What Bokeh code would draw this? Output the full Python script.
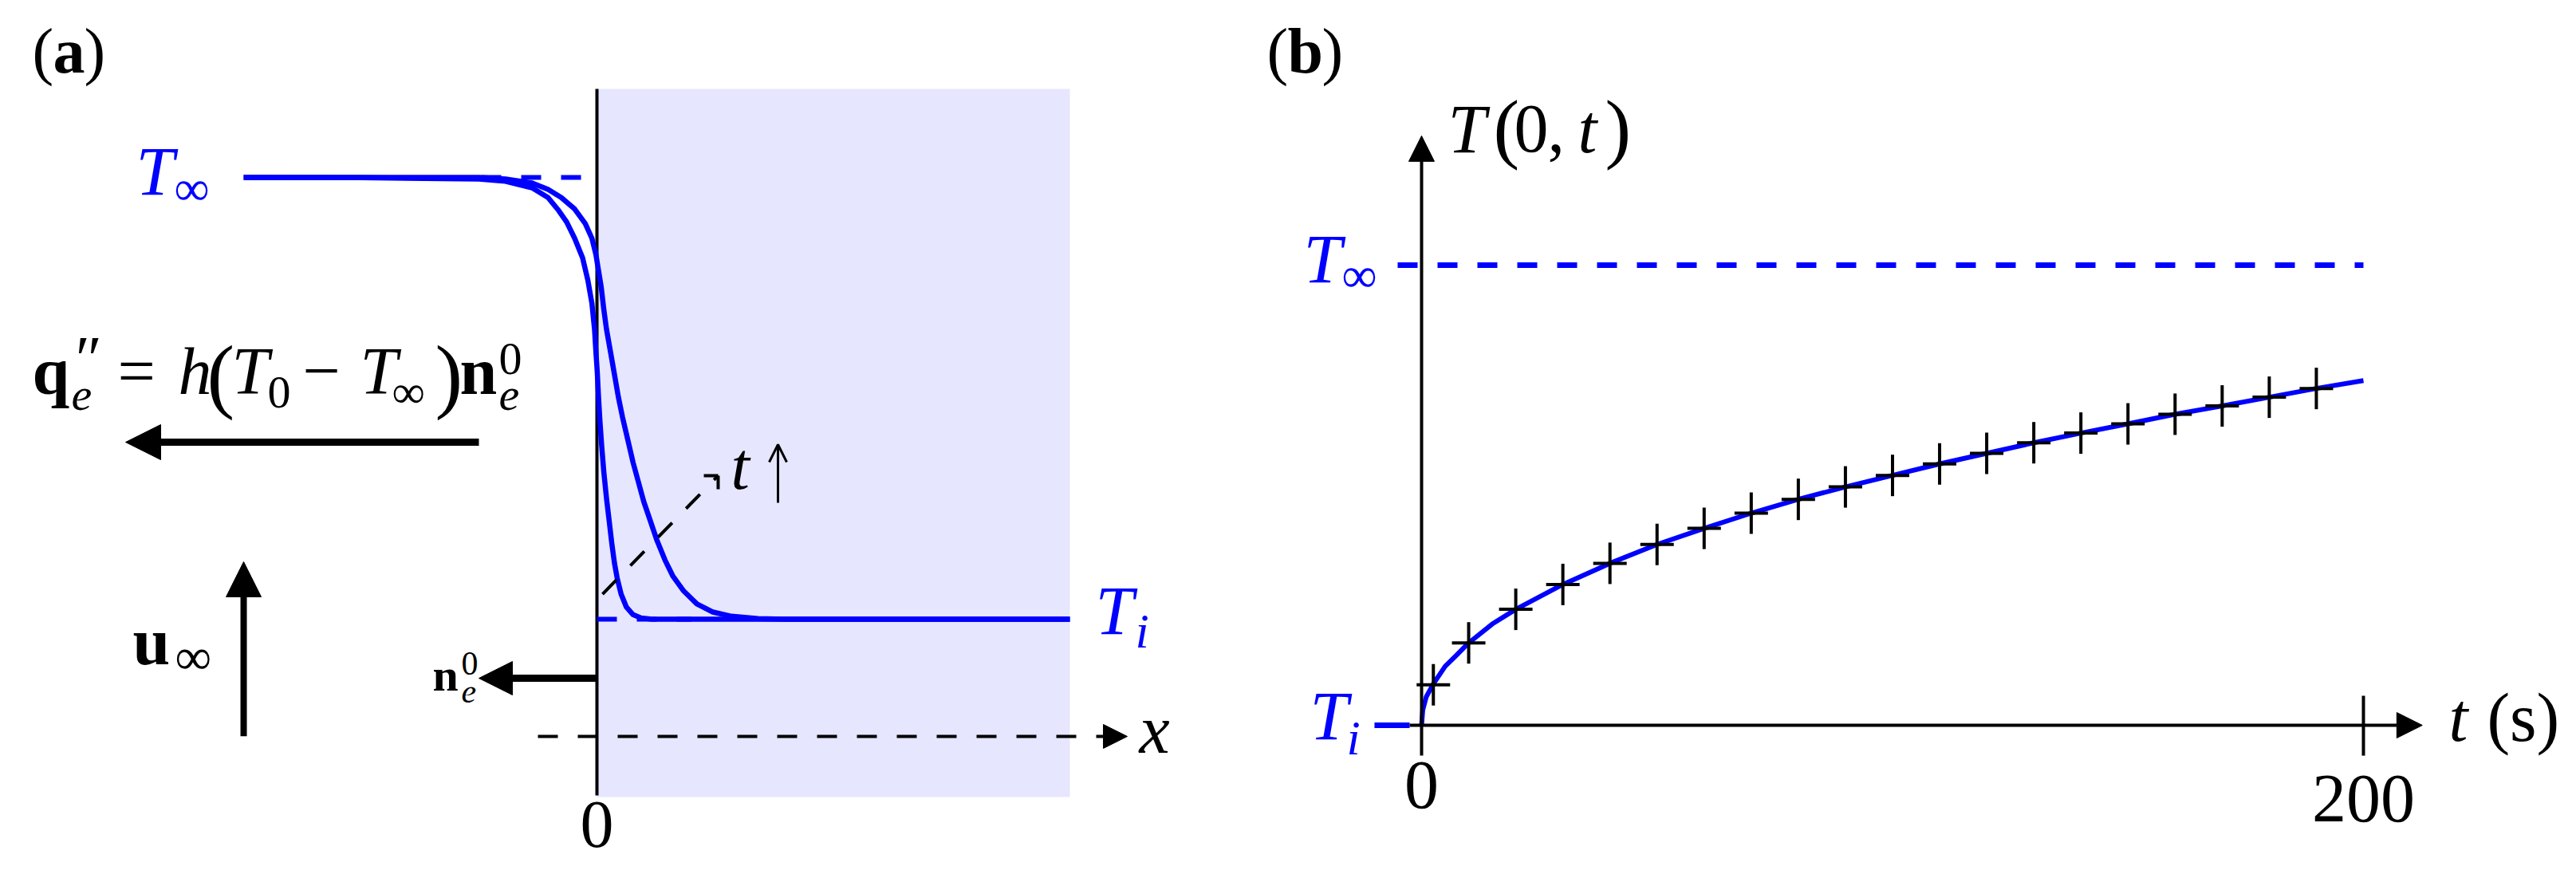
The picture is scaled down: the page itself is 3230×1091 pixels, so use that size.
import numpy as np
from bokeh.plotting import figure
from bokeh.models import Range1d, Arrow, NormalHead, OpenHead
from bokeh.layouts import row
from bokeh.core.properties import value
from bokeh.embed import file_html
from bokeh.resources import INLINE

BLUE = "#0000ff"
SHADE = "#e6e6ff"
FONT = "Liberation Serif"

# ---------------- data: panel (a) temperature profiles (x: wall units, T: normalised Ti=0 .. Tinf=1)
x_early = [-0.747, -0.50, -0.2496, -0.1934, -0.1372, -0.1034, -0.0809, -0.0641, -0.0472, -0.0304,
           -0.0191, -0.0107, -0.0051, -0.0022, 0.0006, 0.0034, 0.0062, 0.0101, 0.0146, 0.0202,
           0.0259, 0.0315, 0.0371, 0.0427, 0.0511, 0.0624, 0.0764, 0.0933, 0.1158, 1.0]
T_early = [1.0, 0.9995, 0.9963, 0.9912, 0.9765, 0.9544, 0.9250, 0.8992, 0.8624, 0.8182,
           0.7667, 0.7152, 0.6564, 0.6049, 0.5607, 0.5018, 0.4503, 0.3915, 0.3326, 0.2737,
           0.2222, 0.1707, 0.1266, 0.0935, 0.0567, 0.0272, 0.0103, 0.0029, 0.0, 0.0]
x_late = [-0.747, -0.2496, -0.1934, -0.1372, -0.1034, -0.0753, -0.0472, -0.0247, -0.0107, -0.0022,
          0.0034, 0.0090, 0.0146, 0.0202, 0.0287, 0.0371, 0.0455, 0.0540, 0.0652, 0.0764,
          0.0877, 0.0989, 0.1130, 0.1270, 0.1439, 0.1608, 0.1833, 0.2114, 0.2451, 0.2844,
          0.3406, 0.3969, 1.0]
T_late = [1.0, 1.0, 0.9963, 0.9875, 0.9728, 0.9544, 0.9286, 0.8955, 0.8624, 0.8256,
          0.7888, 0.7520, 0.7005, 0.6564, 0.6049, 0.5534, 0.5018, 0.4577, 0.4062, 0.3547,
          0.3105, 0.2664, 0.2222, 0.1781, 0.1339, 0.0971, 0.0640, 0.0346, 0.0162, 0.0066,
          0.0015, 0.0, 0.0]
T_inf, T_i = 1.0, 0.0
solid_x = (0.0, 1.0)

# ---------------- data: panel (b) surface temperature history
t_curve = [0, 0.25, 1, 2.5, 5, 7.5, 10, 15, 20, 30, 40, 50, 60, 70, 80, 90, 100, 110,
           120, 130, 140, 150, 160, 170, 180, 190, 200]
T_curve = [0.0, 0.033, 0.062, 0.090, 0.128, 0.153, 0.179, 0.220, 0.252, 0.306, 0.352, 0.393,
           0.428, 0.461, 0.491, 0.518, 0.543, 0.568, 0.591, 0.614, 0.635, 0.655, 0.676, 0.694,
           0.713, 0.732, 0.749]
t_marks = [2.5, 10, 20, 30, 40, 50, 60, 70, 80, 90, 100, 110, 120, 130, 140, 150, 160, 170, 180, 190]
T_marks = [0.088, 0.179, 0.252, 0.306, 0.352, 0.393, 0.428, 0.461, 0.491, 0.518, 0.543, 0.568,
           0.591, 0.614, 0.635, 0.655, 0.676, 0.694, 0.713, 0.732]
t_ticks = [0, 200]
t_tick_labels = ["0", "200"]

PX_PER_UNIT = {}


def make_fig(w, h, xr, yr):
    p = figure(width=w, height=h, x_range=Range1d(*xr), y_range=Range1d(*yr),
               x_axis_type=None, y_axis_type=None, toolbar_location=None,
               output_backend="svg", min_border=0, outline_line_color=None,
               background_fill_color="white", border_fill_color="white")
    PX_PER_UNIT[id(p)] = h / (yr[1] - yr[0])
    return p


def txt(p, x, y, s, size, style="normal", color="black", align="left"):
    # shift the anchor up so that the drawn baseline lands on y
    y_anchor = y + 0.36 * size / PX_PER_UNIT[id(p)]
    p.text(x=[x], y=[y_anchor], text=[s], text_font=value(FONT), text_font_size=value(f"{size}px"),
           text_font_style=style, text_color=color, text_align=align, text_baseline="alphabetic")


def arrow(p, x0, y0, x1, y1, lw, hs, dash="solid"):
    p.add_layout(Arrow(end=NormalHead(size=hs, fill_color="black", line_color="black", line_width=1),
                       x_start=x0, y_start=y0, x_end=x1, y_end=y1,
                       line_width=lw, line_color="black", line_dash=dash))


# ======================= panel (a)
pa = make_fig(1560, 1091, (-1.26138, 1.36931), (-0.56859, 1.40072))
pa.quad(left=solid_x[0], right=solid_x[1], bottom=-0.4025, top=1.2004, fill_color=SHADE, line_color=None)
pa.segment(x0=[0], y0=[-0.3989], x1=[0], y1=[1.2004], line_color="black", line_width=4)
pa.line([-0.2445, 0.0], [T_inf, T_inf], line_color=BLUE, line_width=6, line_dash="25 25")
pa.line([0.0, 0.2], [T_i, T_i], line_color=BLUE, line_width=6, line_dash="25 25")
pa.line(x_early, T_early, line_color=BLUE, line_width=6.5, line_join="round")
pa.line(x_late, T_late, line_color=BLUE, line_width=6.5, line_join="round")

# arrows
arrow(pa, -0.2496, 0.4007, -0.9966, 0.4007, 9, 44)        # heat flux
arrow(pa, -0.747, -0.265, -0.747, 0.130, 8, 44)           # u_inf
arrow(pa, 0.0, -0.1336, -0.2496, -0.1336, 9, 42)          # n_e^0
arrow(pa, -0.1248, -0.2653, 1.1214, -0.2653, 4, 30, "25 25")  # x axis

# t-increase dashed arrow
pa.line([0.0118, 0.2563], [0.0567, 0.3249], line_color="black", line_width=4, line_dash="25 25")
pa.segment(x0=[0.2260, 0.2563], y0=[0.3249, 0.3249], x1=[0.2563, 0.2563], y1=[0.3249, 0.2942],
           line_color="black", line_width=4)
pa.add_layout(Arrow(end=OpenHead(size=22, line_width=3, line_color="black"),
                    x_start=0.3828, y_start=0.2635, x_end=0.3828, y_end=0.3953,
                    line_width=3, line_color="black"))
txt(pa, 0.2833, 0.2924, "t", 84, "italic")

# labels
txt(pa, -1.1939, 1.2347, "(", 80)
txt(pa, -1.1501, 1.2347, "a", 80, "bold")
txt(pa, -1.0843, 1.2347, ")", 80)
txt(pa, -0.9747, 0.9585, "T", 86, "italic", BLUE)
txt(pa, -0.8938, 0.9350, "∞", 62, "normal", BLUE)
txt(pa, 1.0540, -0.0361, "T", 86, "italic", BLUE)
txt(pa, 1.1383, -0.0668, "i", 62, "italic", BLUE)
txt(pa, 0.0, -0.5199, "0", 84, align="center")
txt(pa, 1.1467, -0.3051, "x", 86, "italic")

# equation q''_e = h(T0 - Tinf) n_e^0
txt(pa, -1.1939, 0.5072, "q", 84, "bold")
txt(pa, -1.1113, 0.5379, "″", 80, "italic")
txt(pa, -1.1113, 0.4711, "e", 58, "italic")
txt(pa, -1.0135, 0.5072, "=", 84)
txt(pa, -0.8853, 0.5072, "h", 84, "italic")
txt(pa, -0.8246, 0.4874, "(", 104)
txt(pa, -0.7723, 0.5072, "T", 84, "italic")
txt(pa, -0.6965, 0.4765, "0", 58)
txt(pa, -0.6223, 0.5072, "−", 84)
txt(pa, -0.5008, 0.5072, "T", 84, "italic")
txt(pa, -0.4334, 0.4765, "∞", 58)
txt(pa, -0.3423, 0.4874, ")", 104)
txt(pa, -0.2900, 0.5072, "n", 84, "bold")
txt(pa, -0.2074, 0.5523, "0", 58)
txt(pa, -0.2074, 0.4711, "e", 58, "italic")

# u_inf and n_e^0 labels
txt(pa, -0.9815, -0.1047, "u", 84, "bold")
txt(pa, -0.8921, -0.1264, "∞", 64)
txt(pa, -0.3474, -0.1643, "n", 58, "bold")
txt(pa, -0.2867, -0.1282, "0", 42)
txt(pa, -0.2867, -0.1913, "e", 42, "italic")

# ======================= panel (b)
pb = make_fig(1670, 1091, (-37.595, 245.22), (-0.31542, 1.57539))
pb.line([-5.08, t_ticks[1]], [T_inf, T_inf], line_color=BLUE, line_width=7, line_dash="25 25")
pb.line([-10.0, -2.54], [T_i, T_i], line_color=BLUE, line_width=7)
arrow(pb, -2.54, 0.0, 212.5, 0.0, 4, 32)
arrow(pb, 0.0, -0.066, 0.0, 1.281, 4, 32)
pb.segment(x0=[t_ticks[1]], y0=[-0.066], x1=[t_ticks[1]], y1=[0.0641], line_color="black", line_width=4)
pb.line(t_curve, T_curve, line_color=BLUE, line_width=6, line_join="round")
pb.scatter(t_marks, T_marks, marker="dash", size=42, line_color="black", line_width=4)
pb.scatter(t_marks, T_marks, marker="dash", size=52, angle=np.pi / 2, line_color="black", line_width=4)

txt(pb, t_ticks[0], -0.1837, t_tick_labels[0], 86, align="center")
txt(pb, t_ticks[1], -0.2132, t_tick_labels[1], 86, align="center")
txt(pb, 218.12, -0.0364, "t", 86, "italic")
txt(pb, 226.25, -0.0364, "(s)", 86)

txt(pb, 5.59, 1.2426, "T", 86, "italic")
txt(pb, 15.24, 1.2374, "(", 98)
txt(pb, 19.64, 1.2426, "0", 86)
txt(pb, 26.76, 1.2426, ",", 86)
txt(pb, 33.19, 1.2426, "t", 86, "italic")
txt(pb, 38.95, 1.2374, ")", 98)

txt(pb, -25.06, 0.9601, "T", 86, "italic", BLUE)
txt(pb, -16.93, 0.9393, "∞", 62, "normal", BLUE)
txt(pb, -23.71, -0.0329, "T", 86, "italic", BLUE)
txt(pb, -15.92, -0.0659, "i", 62, "italic", BLUE)

txt(pb, -32.85, 1.4159, "(", 80)
txt(pb, -28.45, 1.4159, "b", 80, "bold")
txt(pb, -21.17, 1.4159, ")", 80)

layout = row(pa, pb)
open("out.html", "w").write(file_html(layout, INLINE))
